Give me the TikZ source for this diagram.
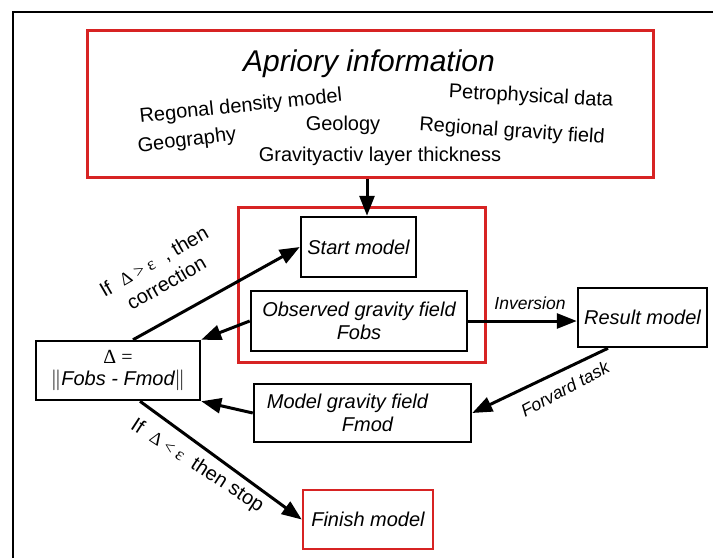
\documentclass[tikz,border=0pt]{standalone}
\usepackage{fontspec}
\setmainfont{Liberation Sans}
\newfontfamily\serifsym{Liberation Serif}
\usetikzlibrary{arrows.meta,calc}
\definecolor{boxred}{RGB}{215,35,35}
\begin{document}
\begin{tikzpicture}[x=1pt,y=-1pt,
  box/.style={draw=black, line width=2.5pt, rectangle, inner sep=0pt, font=\fontsize{20}{23}\selectfont\itshape, align=center},
  redbox/.style={draw=boxred, line width=3pt, rectangle, inner sep=0pt},
  arr/.style={line width=3pt, -{Triangle[length=20pt,width=15pt]}},
  info/.style={font=\fontsize{20}{23}\selectfont, inner sep=0pt},
  lab/.style={font=\fontsize{17.5}{20}\selectfont\itshape, inner sep=0pt},
  cond/.style={font=\fontsize{20}{25}\selectfont, inner sep=0pt, align=center}]
\useasboundingbox (0,0) rectangle (713,558);
\draw[line width=2pt] (13,558) -- (13,12) -- (713,12);

% apriory information
\node[redbox, minimum width=566pt, minimum height=147pt] (top) at (370,103.5) {};
\node[inner sep=0pt, font=\fontsize{30}{34}\selectfont\itshape] (title) at (369,64) {Apriory information};
\node[info, rotate=6] (rdm) at (241,107) {Regonal density model};
\node[info, rotate=-3] (petro) at (531,97) {Petrophysical data};
\node[info] (geol) at (343,125) {Geology};
\node[info, rotate=-4] (rgf) at (512,132) {Regional gravity field};
\node[info, rotate=7] (geog) at (187,141) {Geography};
\node[info] (glt) at (380,156) {Gravityactiv layer thickness};

% group box
\node[redbox, minimum width=247pt, minimum height=155pt] (grp) at (361.5,284.5) {};
\node[box, minimum width=115pt, minimum height=60pt] (start) at (358.5,247) {Start model};
\node[box, minimum width=216pt, minimum height=60pt] (obs) at (359,321) {Observed gravity field\\Fobs};
\node[box, minimum width=129pt, minimum height=59pt] (res) at (642.5,317.5) {Result model};
\node[box, minimum width=164pt, minimum height=59pt] (delta) at (118,370.5)
  {{\upshape\serifsym Δ =}\\[-1pt]$\Vert$Fobs - Fmod$\Vert$};
\node[box, minimum width=217pt, minimum height=58pt, align=left] (modf) at (362.5,413)
  {Model gravity field\hspace*{30pt}\\\hspace*{75pt}Fmod};
\node[box, draw=boxred, minimum width=130pt, minimum height=59pt] (fin) at (368,519.5) {Finish model};

% connectors
\coordinate (ax) at (367,0);
\draw[arr] (top.south -| ax) -- (start.north -| ax);
\draw[arr] ([xshift=15pt]delta.north) -- (start.west);
\draw[arr] (obs.west) -- (delta.north east);
\draw[arr] (obs.east) -- (obs.east -| res.west);
\draw[arr] ([xshift=-34.5pt]res.south) -- (modf.east);
\draw[arr] (modf.west) -- (delta.south east);
\draw[arr] ([xshift=22pt]delta.south) -- (fin.west);

% labels
\node[lab] (linv) at (530,303) {Inversion};
\node[lab, rotate=28] (lfor) at (565,389) {Forvard task};
\node[cond, rotate=30] (lcor) at (160,272)
  {If\ \ {\serifsym\fontsize{18}{20}\selectfont Δ > ε}\ \ , then\\correction};
\node[cond, rotate=-33] (lstop) at (197,466)
  {If\ \ {\serifsym\fontsize{18}{20}\selectfont Δ < ε}\ \ then stop};
\end{tikzpicture}
\end{document}
